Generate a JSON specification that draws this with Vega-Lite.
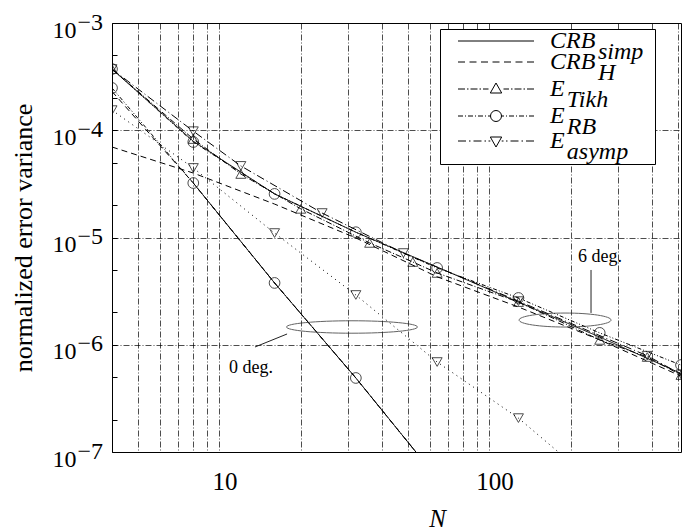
{
  "$schema": "https://vega.github.io/schema/vega-lite/v6.json",
  "width": 569,
  "height": 429,
  "autosize": {"type": "none"},
  "padding": {"left": 112, "top": 23, "right": 1, "bottom": 79},
  "background": "white",
  "datasets": {
    "curves": [
      {"N": 4, "value": 3.72e-4, "method": "CRB_simp", "deg": 6},
      {"N": 8, "value": 7.9e-5, "method": "CRB_simp", "deg": 6},
      {"N": 16, "value": 2.55e-5, "method": "CRB_simp", "deg": 6},
      {"N": 32, "value": 1.12e-5, "method": "CRB_simp", "deg": 6},
      {"N": 64, "value": 5.3e-6, "method": "CRB_simp", "deg": 6},
      {"N": 128, "value": 2.5e-6, "method": "CRB_simp", "deg": 6},
      {"N": 256, "value": 1.18e-6, "method": "CRB_simp", "deg": 6},
      {"N": 512, "value": 5.4e-7, "method": "CRB_simp", "deg": 6},
      {"N": 4, "value": 6.98e-5, "method": "CRB_H", "deg": 6},
      {"N": 8, "value": 3.99e-5, "method": "CRB_H", "deg": 6},
      {"N": 16, "value": 2.05e-5, "method": "CRB_H", "deg": 6},
      {"N": 32, "value": 9.9e-6, "method": "CRB_H", "deg": 6},
      {"N": 64, "value": 4.3e-6, "method": "CRB_H", "deg": 6},
      {"N": 128, "value": 2.25e-6, "method": "CRB_H", "deg": 6},
      {"N": 256, "value": 1.11e-6, "method": "CRB_H", "deg": 6},
      {"N": 512, "value": 5.1e-7, "method": "CRB_H", "deg": 6},
      {"N": 4, "value": 3.72e-4, "method": "E_Tikh", "deg": 6},
      {"N": 8, "value": 8.28e-5, "method": "E_Tikh", "deg": 6},
      {"N": 12, "value": 3.91e-5, "method": "E_Tikh", "deg": 6},
      {"N": 20, "value": 1.85e-5, "method": "E_Tikh", "deg": 6},
      {"N": 36, "value": 8.9e-6, "method": "E_Tikh", "deg": 6},
      {"N": 52, "value": 5.91e-6, "method": "E_Tikh", "deg": 6},
      {"N": 64, "value": 4.67e-6, "method": "E_Tikh", "deg": 6},
      {"N": 128, "value": 2.5e-6, "method": "E_Tikh", "deg": 6},
      {"N": 256, "value": 1.11e-6, "method": "E_Tikh", "deg": 6},
      {"N": 384, "value": 7.69e-7, "method": "E_Tikh", "deg": 6},
      {"N": 512, "value": 5.22e-7, "method": "E_Tikh", "deg": 6},
      {"N": 4, "value": 3.72e-4, "method": "E_RB", "deg": 6},
      {"N": 8, "value": 7.77e-5, "method": "E_RB", "deg": 6},
      {"N": 16, "value": 2.55e-5, "method": "E_RB", "deg": 6},
      {"N": 32, "value": 1.12e-5, "method": "E_RB", "deg": 6},
      {"N": 64, "value": 5.2e-6, "method": "E_RB", "deg": 6},
      {"N": 128, "value": 2.73e-6, "method": "E_RB", "deg": 6},
      {"N": 256, "value": 1.29e-6, "method": "E_RB", "deg": 6},
      {"N": 512, "value": 6.47e-7, "method": "E_RB", "deg": 6},
      {"N": 4, "value": 3.72e-4, "method": "E_asymp", "deg": 6},
      {"N": 8, "value": 9.8e-5, "method": "E_asymp", "deg": 6},
      {"N": 12, "value": 4.65e-5, "method": "E_asymp", "deg": 6},
      {"N": 24, "value": 1.69e-5, "method": "E_asymp", "deg": 6},
      {"N": 48, "value": 7.16e-6, "method": "E_asymp", "deg": 6},
      {"N": 128, "value": 2.55e-6, "method": "E_asymp", "deg": 6},
      {"N": 384, "value": 7.9e-7, "method": "E_asymp", "deg": 6},
      {"N": 512, "value": 5.3e-7, "method": "E_asymp", "deg": 6},
      {"N": 8, "value": 3.22e-5, "method": "CRB_simp", "deg": 0},
      {"N": 16, "value": 3.77e-6, "method": "CRB_simp", "deg": 0},
      {"N": 32, "value": 4.9e-7, "method": "CRB_simp", "deg": 0},
      {"N": 64, "value": 5.7e-8, "method": "CRB_simp", "deg": 0},
      {"N": 4, "value": 2.3e-4, "method": "CRB_H", "deg": 0},
      {"N": 8, "value": 3.22e-5, "method": "CRB_H", "deg": 0},
      {"N": 16, "value": 3.77e-6, "method": "CRB_H", "deg": 0},
      {"N": 32, "value": 4.9e-7, "method": "CRB_H", "deg": 0},
      {"N": 64, "value": 5.7e-8, "method": "CRB_H", "deg": 0},
      {"N": 4, "value": 2.48e-4, "method": "E_RB", "deg": 0},
      {"N": 8, "value": 3.22e-5, "method": "E_RB", "deg": 0},
      {"N": 16, "value": 3.77e-6, "method": "E_RB", "deg": 0},
      {"N": 32, "value": 4.9e-7, "method": "E_RB", "deg": 0},
      {"N": 64, "value": 5.7e-8, "method": "E_RB", "deg": 0},
      {"N": 4, "value": 1.54e-4, "method": "E_asymp", "deg": 0},
      {"N": 8, "value": 4.45e-5, "method": "E_asymp", "deg": 0},
      {"N": 16, "value": 1.1e-5, "method": "E_asymp", "deg": 0},
      {"N": 32, "value": 2.91e-6, "method": "E_asymp", "deg": 0},
      {"N": 64, "value": 6.9e-7, "method": "E_asymp", "deg": 0},
      {"N": 128, "value": 2.07e-7, "method": "E_asymp", "deg": 0},
      {"N": 256, "value": 4.7e-8, "method": "E_asymp", "deg": 0}
    ],
    "notes": [
      {"kind": "ellipse0", "N": 30.96, "value": 1.464e-6},
      {"kind": "ellipse6", "N": 190.5, "value": 1.70e-6},
      {"kind": "leader", "N": 17.8, "value": 1.26e-6, "N2": 13.54, "value2": 9.53e-7},
      {"kind": "leader", "N": 237.7, "value": 4.98e-6, "N2": 237.7, "value2": 1.98e-6},
      {"kind": "label", "N": 13.09, "value": 6.07e-7, "text": "0 deg."},
      {"kind": "label", "N": 256.8, "value": 6.58e-6, "text": "6 deg."}
    ]
  },
  "encoding": {
    "x": {
      "field": "N", "type": "quantitative",
      "scale": {"type": "log", "domain": [4, 512], "nice": false},
      "axis": {
        "values": [5, 6, 7, 8, 9, 10, 20, 30, 40, 50, 60, 70, 80, 90, 100, 200, 300, 400, 500],
        "labelExpr": "datum.value == 10 ? '10' : datum.value == 100 ? '100' : ''",
        "title": "N", "titleFontStyle": "italic", "titleFontSize": 25,
        "titleX": 325, "titleY": 66, "titleBaseline": "middle", "titleAlign": "center",
        "ticks": false, "labelPadding": 17, "labelOffset": 5, "labelFontSize": 25,
        "labelOverlap": false, "labelFlush": false
      }
    },
    "y": {
      "field": "value", "type": "quantitative",
      "scale": {"type": "log", "domain": [1e-7, 1e-3], "nice": false},
      "axis": null
    }
  },
  "resolve": {"axis": {"y": "independent"}},
  "layer": [
    {
      "data": {"name": "curves"},
      "transform": [{"calculate": "datum.method + (datum.deg == 0 && datum.method == 'E_asymp' ? ' dotted' : '')", "as": "dash"}],
      "mark": {"type": "line", "clip": true, "strokeWidth": 1, "color": "black"},
      "encoding": {
        "y": {
          "field": "value", "type": "quantitative",
          "scale": {"type": "log", "domain": [1e-7, 1e-3], "nice": false},
          "axis": {
            "orient": "left",
            "values": [1e-7, 2e-7, 5e-7, 1e-6, 2e-6, 5e-6, 1e-5, 2e-5, 5e-5, 1e-4, 2e-4, 5e-4, 1e-3],
            "labelExpr": "abs(log(datum.value)/LN10 - round(log(datum.value)/LN10)) < 0.01 ? '10' : ''",
            "labelAlign": "right", "labelBaseline": "middle",
            "labelPadding": 41, "tickSize": -5, "labelFontSize": 24, "labelOffset": 7,
            "labelOverlap": false, "labelFlush": false,
            "title": "normalized error variance", "titleFontSize": 26,
            "titleX": -89, "titleY": 214.5, "titleAngle": -90, "titleAlign": "center", "titleBaseline": "middle",
            "gridOpacity": {"condition": {"test": "abs(log(datum.value)/LN10 - round(log(datum.value)/LN10)) < 0.01", "value": 1}, "value": 0}
          }
        },
        "strokeDash": {
          "field": "dash", "type": "nominal",
          "scale": {"domain": ["CRB_simp", "CRB_H", "E_Tikh", "E_RB", "E_asymp", "E_asymp dotted"], "range": [[1, 0], [6, 4], [6, 2, 1, 2], [4, 2, 1, 2, 1, 2], [8, 3, 1, 3], [1, 4]]},
          "legend": null
        },
        "detail": {"field": "deg", "type": "nominal"}
      }
    },
    {
      "data": {"name": "curves"},
      "transform": [{"filter": "datum.method == 'E_Tikh'"}],
      "mark": {"type": "point", "shape": "triangle-up", "size": 100, "filled": false, "stroke": "black", "strokeWidth": 1, "clip": true},
      "encoding": {
        "y": {
          "field": "value", "type": "quantitative",
          "scale": {"type": "log", "domain": [1e-7, 1e-3], "nice": false},
          "axis": {
            "orient": "left",
            "values": [1e-7, 1e-6, 1e-5, 1e-4, 1e-3],
            "labelExpr": "'\u2212' + (-round(log(datum.value)/LN10))",
            "labelAlign": "left", "labelBaseline": "middle",
            "labelPadding": 35, "ticks": false, "grid": false, "domain": false,
            "labelFontSize": 24, "labelOffset": -1,
            "labelOverlap": false, "labelFlush": false, "title": null
          }
        }
      }
    },
    {
      "data": {"name": "curves"},
      "transform": [{"filter": "datum.method == 'E_RB'"}],
      "mark": {"type": "point", "shape": "circle", "size": 115, "filled": false, "stroke": "black", "strokeWidth": 1, "clip": true}
    },
    {
      "data": {"name": "curves"},
      "transform": [{"filter": "datum.method == 'E_asymp'"}],
      "mark": {"type": "point", "shape": "triangle-down", "size": 100, "filled": false, "stroke": "black", "strokeWidth": 1, "clip": true}
    },
    {
      "data": {"name": "curves"},
      "transform": [{"filter": "datum.N == 4 && datum.deg == 6"}],
      "mark": {"type": "point", "opacity": 0, "filled": false, "stroke": "black", "strokeWidth": 1},
      "encoding": {
        "shape": {
          "field": "method", "type": "nominal",
          "scale": {
            "domain": ["CRB_simp", "CRB_H", "E_Tikh", "E_RB", "E_asymp"],
            "range": [
              "M-38,-11H38",
              "M-38,-11H-31M-26.5,-11H-19.5M-15,-11H-8M-3.5,-11H3.5M8,-11H15M19.5,-11H26.5M31,-11H38",
              "M-38,-11H-31M-29,-11H-27.5M-25.5,-11H-18.5M-16.5,-11H-15M-13,-11H-7.5M0,-17L5.7,-7L-5.7,-7ZM7.5,-11H13M15,-11H16.5M18.5,-11H25.5M27.5,-11H29M31,-11H38",
              "M-38,-11H-33M-31,-11H-30M-28,-11H-23M-21,-11H-20M-18,-11H-13M-11,-11H-10M-8,-11H-5.5M-5.5,-11A5.5,5.5,0,1,1,5.5,-11A5.5,5.5,0,1,1,-5.5,-11ZM5.5,-11H8M10,-11H11M13,-11H18M20,-11H21M23,-11H28M30,-11H31M33,-11H38",
              "M-38,-11H-30M-27,-11H-25.5M-22.5,-11H-14.5M-11.5,-11H-10M-7.5,-11H-5.7M0,-5L5.7,-15L-5.7,-15ZM5.7,-11H7.5M10,-11H11.5M14.5,-11H22.5M25.5,-11H27M30,-11H38"
            ]
          },
          "legend": {
            "title": null, "orient": "none", "legendX": 328, "legendY": 6,
            "fillColor": "white", "strokeColor": "black", "padding": 11,
            "symbolSize": 4, "symbolOffset": 33, "symbolStrokeColor": "black", "symbolFillColor": "white",
            "symbolStrokeWidth": 1, "symbolOpacity": 1,
            "labelFont": "Liberation Serif", "labelFontStyle": "italic", "labelFontSize": 24,
            "labelBaseline": "middle", "labelOffset": 42, "rowPadding": 7, "labelLimit": 300, "labelColor": "black",
            "labelExpr": "datum.value == 'CRB_simp' ? ['\u200b\u00a0\u00a0\u00a0\u00a0\u00a0\u00a0\u00a0\u00a0simp', 'CRB'] : datum.value == 'CRB_H' ? ['\u200b\u00a0\u00a0\u00a0\u00a0\u00a0\u00a0\u00a0\u00a0H', 'CRB'] : datum.value == 'E_Tikh' ? ['\u200b\u00a0\u00a0\u2009Tikh', 'E'] : datum.value == 'E_RB' ? ['\u200b\u00a0\u00a0\u2009RB', 'E'] : ['\u200b\u00a0\u00a0\u2009asymp', 'E']"
          }
        }
      }
    },
    {
      "data": {"name": "notes"},
      "transform": [{"filter": "datum.kind == 'ellipse0'"}],
      "mark": {"type": "point", "shape": "M-1,0A1,0.095,0,1,1,1,0A1,0.095,0,1,1,-1,0Z", "size": 17161, "filled": false, "stroke": "#222", "strokeWidth": 1}
    },
    {
      "data": {"name": "notes"},
      "transform": [{"filter": "datum.kind == 'ellipse6'"}],
      "mark": {"type": "point", "shape": "M-1,0A1,0.152,0,1,1,1,0A1,0.152,0,1,1,-1,0Z", "size": 8464, "filled": false, "stroke": "#222", "strokeWidth": 1}
    },
    {
      "data": {"name": "notes"},
      "transform": [{"filter": "datum.kind == 'leader'"}],
      "mark": {"type": "rule", "stroke": "#222", "strokeWidth": 1},
      "encoding": {"x2": {"field": "N2"}, "y2": {"field": "value2"}}
    },
    {
      "data": {"name": "notes"},
      "transform": [{"filter": "datum.kind == 'label'"}],
      "mark": {"type": "text", "font": "Liberation Serif", "fontSize": 18, "color": "black", "align": "center", "baseline": "middle"},
      "encoding": {"text": {"field": "text"}}
    }
  ],
  "config": {
    "view": {"stroke": "black", "strokeWidth": 1},
    "font": "Liberation Serif",
    "axis": {
      "labelFont": "Liberation Serif", "titleFont": "Liberation Serif",
      "labelColor": "black", "titleColor": "black", "titleFontWeight": "normal",
      "domain": false, "gridColor": "black", "gridDash": [6, 2, 1, 2], "gridWidth": 0.7, "gridOpacity": 1,
      "tickColor": "black"
    },
    "style": {"guide-label": {"lineHeight": -11}}
  }
}
